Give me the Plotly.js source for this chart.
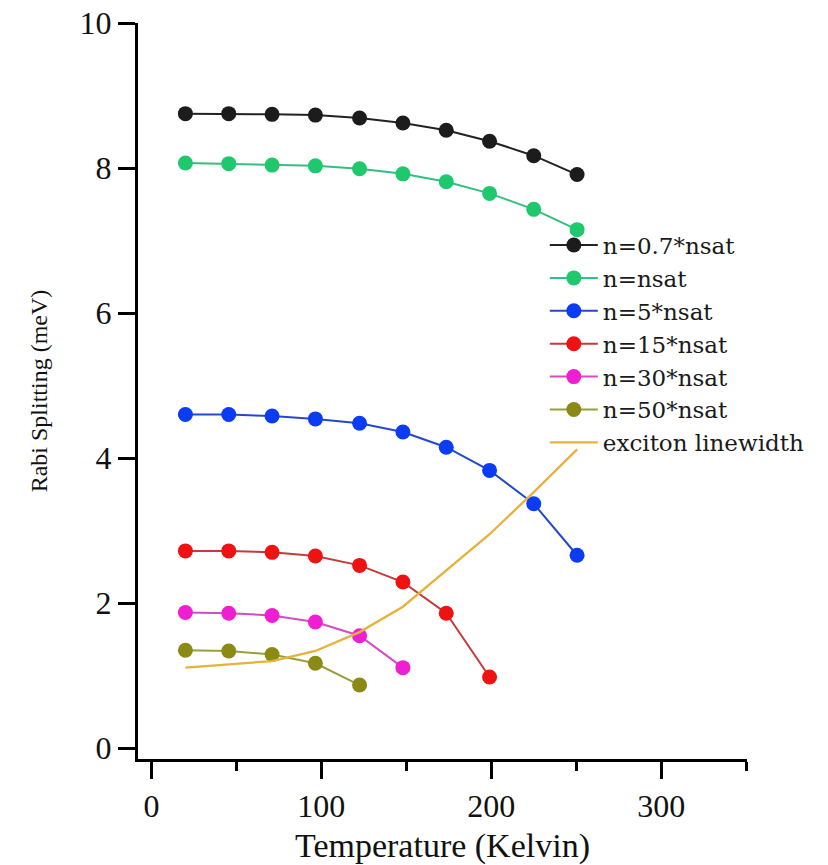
<!DOCTYPE html>
<html>
<head>
<meta charset="utf-8">
<script src="https://cdn.plot.ly/plotly-3.0.1.min.js"></script>
<style>html,body{margin:0;padding:0;background:#fff;}#chart{width:828px;height:865px;}</style>
</head>
<body>
<div id="chart"></div>
<script>
// Temperature (Kelvin) sample points
var tempK = [20, 45.5, 71, 96.5, 122.5, 148, 173.5, 199, 225, 250.5];

// Rabi splitting (meV) for each carrier density
var n07  = [8.75, 8.75, 8.74, 8.73, 8.69, 8.62, 8.52, 8.37, 8.17, 7.91];
var n1   = [8.07, 8.06, 8.04, 8.03, 7.99, 7.92, 7.81, 7.65, 7.43, 7.15];
var n5   = [4.60, 4.60, 4.58, 4.54, 4.48, 4.36, 4.15, 3.83, 3.37, 2.66];
var n15  = [2.72, 2.72, 2.70, 2.65, 2.52, 2.29, 1.86, 0.98];
var n30  = [1.87, 1.86, 1.83, 1.74, 1.55, 1.11];
var n50  = [1.35, 1.34, 1.29, 1.17, 0.87];

// exciton linewidth (meV)
var linewidth = [1.11, 1.15, 1.20, 1.34, 1.60, 1.95, 2.45, 2.95, 3.53, 4.12];

var names = ['n=0.7*nsat', 'n=nsat', 'n=5*nsat', 'n=15*nsat', 'n=30*nsat', 'n=50*nsat'];
var series = [n07, n1, n5, n15, n30, n50];
var markerColors = ['#1c1c1c', '#1fc86c', '#0b3cf2', '#ee1212', '#f01ed2', '#8a8a14'];
var lineColors   = ['#222222', '#34bf80', '#2449c6', '#c83a3a', '#d24cc4', '#98a03c'];

var traces = series.map(function (ys, i) {
  return {
    type: 'scatter',
    mode: 'lines+markers',
    name: names[i],
    x: tempK.slice(0, ys.length),
    y: ys,
    line: {color: lineColors[i], width: 2},
    marker: {color: markerColors[i], size: 15}
  };
});
traces.push({
  type: 'scatter',
  mode: 'lines',
  name: 'exciton linewidth',
  x: tempK,
  y: linewidth,
  line: {color: '#e6b23c', width: 2.3}
});

var serif = 'Liberation Serif, Times New Roman, serif';

var layout = {
  width: 828,
  height: 865,
  paper_bgcolor: '#ffffff',
  plot_bgcolor: '#ffffff',
  margin: {l: 138, r: 81, t: 23, b: 106},
  showlegend: true,
  legend: {
    x: 0.668, y: 0.7275, xanchor: 'left', yanchor: 'top',
    bgcolor: 'rgba(0,0,0,0)',
    font: {family: 'DejaVu Serif, serif', size: 23, color: '#1a1a1a'},
    itemwidth: 48
  },
  xaxis: {
    range: [-7.9, 350.5],
    tick0: 0, dtick: 100,
    ticks: 'outside', ticklen: 17, tickwidth: 3, tickcolor: '#000',
    showline: true, linewidth: 3, linecolor: '#000',
    showgrid: false, zeroline: false,
    tickfont: {family: serif, size: 32, color: '#111'},
    minor: {tick0: 0, dtick: 50, ticks: 'outside', ticklen: 9, tickwidth: 3, tickcolor: '#000', showgrid: false},
    title: {text: 'Temperature (Kelvin)', font: {family: serif, size: 34, color: '#111'}, standoff: 12}
  },
  yaxis: {
    range: [-0.15, 10],
    tick0: 0, dtick: 2,
    ticks: 'outside', ticklen: 17, tickwidth: 3, tickcolor: '#000',
    showline: true, linewidth: 3, linecolor: '#000',
    showgrid: false, zeroline: false,
    tickfont: {family: serif, size: 32, color: '#111'},
    title: {text: 'Rabi Splitting (meV)', font: {family: serif, size: 24, color: '#111'}, standoff: 26}
  }
};

Plotly.newPlot('chart', traces, layout, {staticPlot: true, displayModeBar: false});
</script>
</body>
</html>
